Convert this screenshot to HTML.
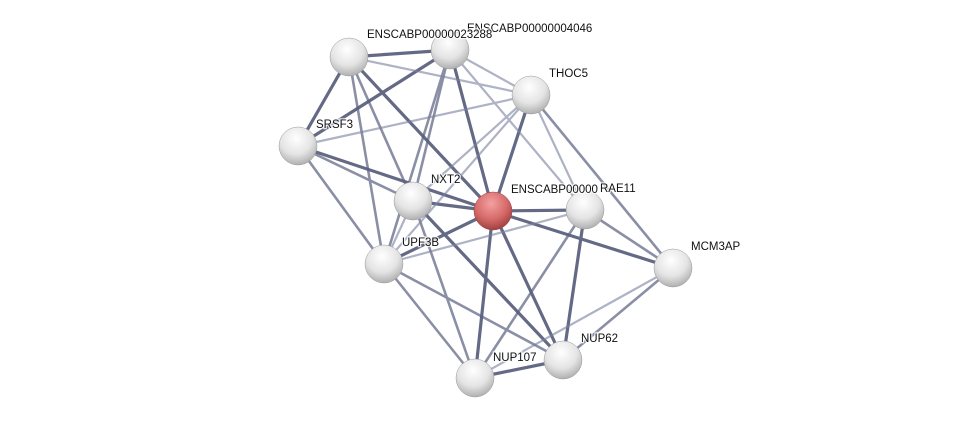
<!DOCTYPE html>
<html><head><meta charset="utf-8"><style>
html,body{margin:0;padding:0;background:#fff;}
svg{display:block;}
text{font-family:"Liberation Sans",sans-serif;font-size:11.5px;fill:#111;paint-order:stroke;stroke:#fff;stroke-width:2.5px;stroke-opacity:0.8;}
</style></head><body>
<svg width="975" height="425" viewBox="0 0 975 425" xmlns="http://www.w3.org/2000/svg">
<defs>
<radialGradient id="g" cx="45%" cy="30%" r="70%">
<stop offset="0" stop-color="#ffffff"/><stop offset="0.6" stop-color="#e4e4e4"/><stop offset="1" stop-color="#b0b0b0"/>
</radialGradient>
<radialGradient id="r" cx="45%" cy="30%" r="70%">
<stop offset="0" stop-color="#f4a0a0"/><stop offset="0.6" stop-color="#d66a6a"/><stop offset="1" stop-color="#a04040"/>
</radialGradient>
</defs>
<g stroke-linecap="round">
<g stroke="#4a5070" stroke-width="3.2" opacity="0.85">
<line x1="349" y1="57" x2="450" y2="50"/>
<line x1="349" y1="57" x2="298" y2="146"/>
<line x1="349" y1="57" x2="493" y2="211"/>
<line x1="450" y1="50" x2="298" y2="146"/>
<line x1="450" y1="50" x2="493" y2="211"/>
<line x1="531" y1="95" x2="493" y2="211"/>
<line x1="298" y1="146" x2="493" y2="211"/>
<line x1="413" y1="201" x2="493" y2="211"/>
<line x1="413" y1="201" x2="563" y2="360"/>
<line x1="493" y1="211" x2="585" y2="210"/>
<line x1="493" y1="211" x2="673" y2="268"/>
<line x1="493" y1="211" x2="563" y2="360"/>
<line x1="493" y1="211" x2="475" y2="378"/>
<line x1="493" y1="211" x2="384" y2="264"/>
<line x1="585" y1="210" x2="563" y2="360"/>
<line x1="563" y1="360" x2="475" y2="378"/>
</g>
<g stroke="#5a6080" stroke-width="2.6" opacity="0.7">
<line x1="349" y1="57" x2="413" y2="201"/>
<line x1="349" y1="57" x2="384" y2="264"/>
<line x1="450" y1="50" x2="413" y2="201"/>
<line x1="450" y1="50" x2="384" y2="264"/>
<line x1="531" y1="95" x2="673" y2="268"/>
<line x1="298" y1="146" x2="413" y2="201"/>
<line x1="298" y1="146" x2="384" y2="264"/>
<line x1="413" y1="201" x2="475" y2="378"/>
<line x1="585" y1="210" x2="673" y2="268"/>
<line x1="585" y1="210" x2="475" y2="378"/>
<line x1="384" y1="264" x2="563" y2="360"/>
<line x1="384" y1="264" x2="475" y2="378"/>
<line x1="673" y1="268" x2="563" y2="360"/>
</g>
<g stroke="#7a80a0" stroke-width="2.2" opacity="0.6">
<line x1="349" y1="57" x2="531" y2="95"/>
<line x1="450" y1="50" x2="531" y2="95"/>
<line x1="450" y1="50" x2="585" y2="210"/>
<line x1="531" y1="95" x2="298" y2="146"/>
<line x1="531" y1="95" x2="413" y2="201"/>
<line x1="531" y1="95" x2="384" y2="264"/>
<line x1="531" y1="95" x2="585" y2="210"/>
<line x1="413" y1="201" x2="384" y2="264"/>
<line x1="384" y1="264" x2="585" y2="210"/>
<line x1="673" y1="268" x2="475" y2="378"/>
</g>
</g>
<g>
<circle cx="349" cy="57" r="19" fill="url(#g)" stroke="#999" stroke-width="0.5"/>
<circle cx="450" cy="50" r="19" fill="url(#g)" stroke="#999" stroke-width="0.5"/>
<circle cx="531" cy="95" r="19" fill="url(#g)" stroke="#999" stroke-width="0.5"/>
<circle cx="298" cy="146" r="19" fill="url(#g)" stroke="#999" stroke-width="0.5"/>
<circle cx="413" cy="201" r="19" fill="url(#g)" stroke="#999" stroke-width="0.5"/>
<circle cx="585" cy="210" r="19" fill="url(#g)" stroke="#999" stroke-width="0.5"/>
<circle cx="384" cy="264" r="19" fill="url(#g)" stroke="#999" stroke-width="0.5"/>
<circle cx="673" cy="268" r="19" fill="url(#g)" stroke="#999" stroke-width="0.5"/>
<circle cx="563" cy="360" r="19" fill="url(#g)" stroke="#999" stroke-width="0.5"/>
<circle cx="475" cy="378" r="19" fill="url(#g)" stroke="#999" stroke-width="0.5"/>
<circle cx="493" cy="211" r="19" fill="url(#r)" stroke="#944" stroke-width="0.5"/>
</g>
<text x="467" y="32">ENSCABP00000004046</text>
<text x="367" y="38">ENSCABP00000023288</text>
<text x="549" y="77">THOC5</text>
<text x="316" y="128">SRSF3</text>
<text x="431" y="183">NXT2</text>
<text x="511" y="193">ENSCABP00000</text>
<text x="600" y="192">RAE11</text>
<text x="402" y="246">UPF3B</text>
<text x="691" y="250">MCM3AP</text>
<text x="581" y="342">NUP62</text>
<text x="493" y="361">NUP107</text>
</svg>
</body></html>
